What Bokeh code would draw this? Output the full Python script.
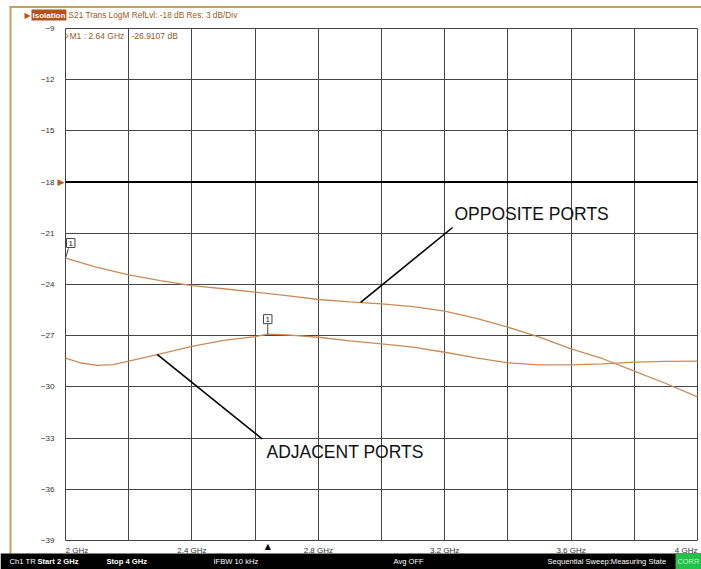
from bokeh.plotting import figure
from bokeh.models import Range1d, FixedTicker, Label, BoxAnnotation, Grid, LinearAxis
from bokeh.embed import file_html
from bokeh.resources import INLINE

# ---- data ----
opp_freq = [2.0, 2.1, 2.2, 2.3, 2.4, 2.5, 2.6, 2.7, 2.8, 2.9, 3.0, 3.1, 3.2, 3.3, 3.4, 3.5, 3.6, 3.7, 3.8, 3.9, 4.0]
opp_db = [-22.45, -22.99, -23.43, -23.77, -24.06, -24.25, -24.45, -24.65, -24.88, -25.02, -25.13, -25.3, -25.56,
          -25.98, -26.5, -27.08, -27.77, -28.35, -29.08, -29.8, -30.58]

adj_freq = [2.0, 2.05, 2.1, 2.15, 2.2, 2.3, 2.4, 2.5, 2.6, 2.64, 2.7, 2.8, 2.9, 3.0, 3.1, 3.2, 3.3, 3.4, 3.5, 3.6,
            3.7, 3.8, 3.9, 4.0]
adj_db = [-28.32, -28.6, -28.74, -28.7, -28.49, -28.06, -27.63, -27.28, -27.05, -26.91, -26.95, -27.09, -27.3,
          -27.48, -27.67, -27.97, -28.3, -28.59, -28.71, -28.71, -28.65, -28.55, -28.5, -28.49]

marker_freq = [2.0, 2.64]
marker_db = [-22.45, -26.91]
marker_text = ["1", "1"]

ref_level = -18
y_ticks = [-39, -36, -33, -30, -27, -24, -21, -18, -15, -12, -9]
x_grid = [2.0, 2.2, 2.4, 2.6, 2.8, 3.0, 3.2, 3.4, 3.6, 3.8, 4.0]
x_tick_vals = [2.4, 2.8, 3.2, 3.6]
x_tick_text = ["2.4 GHz", "2.8 GHz", "3.2 GHz", "3.6 GHz"]
x_end_vals = [2.0, 4.0]
x_end_text = ["2 GHz", "4 GHz"]
x_lo, x_hi = 2.0, 4.0
y_lo, y_hi = -39, -9

callout_text = ["OPPOSITE PORTS", "ADJACENT PORTS"]
callout_x = [3.231, 2.636]
callout_y = [-19.87, -33.79]
leader_x0 = [2.934, 2.290]
leader_y0 = [-25.05, -28.10]
leader_x1 = [3.225, 2.622]
leader_y1 = [-20.66, -33.04]

header_tag = "Isolation"
header_text = "S21 Trans LogM RefLvl: -18  dB Res: 3  dB/Div"
readout_freq_text = "M1 :  2.64 GHz"
readout_val_text = "-26.9107  dB"
status_items = [("Ch1", "normal"), ("TR", "normal"), ("Start 2 GHz", "bold"), ("Stop 4 GHz", "bold"),
                ("IFBW 10 kHz", "normal"), ("Avg OFF", "normal"), ("Sequential Sweep:Measuring State", "normal")]
status_corr = "CORR"

# ---- layout / styles ----
FONT = "Liberation Sans"
TRACE = "#c78d58"
BROWN = "#9a5a26"
ORANGE = "#c0561a"
GOLD = "#c8a25a"
GRID = "#454545"

W, H = 701, 569
GX0, GX1 = 65, 697      # pixel columns of 2 GHz and 4 GHz
GY0, GY1 = 28, 540      # pixel rows of -9 dB and -39 dB
ppx = (GX1 - GX0) / (x_hi - x_lo)
ppy = (GY1 - GY0) / (y_hi - y_lo)
xr = Range1d(x_lo - GX0 / ppx, x_hi + (W - GX1) / ppx)
yr = Range1d(y_lo - (H - GY1) / ppy, y_hi + GY0 / ppy)

p = figure(width=W, height=H, output_backend="svg", toolbar_location=None, title=None,
           x_range=xr, y_range=yr, x_axis_type=None, y_axis_type=None, min_border=0)
p.background_fill_color = "white"
p.border_fill_color = "white"
p.outline_line_color = None

# grid (limited to the measurement area)
have_cross = "cross_bounds" in Grid.properties()
if have_cross:
    gx = Grid(dimension=0, ticker=FixedTicker(ticks=x_grid), bounds=(x_lo, x_hi), cross_bounds=(y_lo, y_hi),
              grid_line_color=GRID, grid_line_width=1)
    gy = Grid(dimension=1, ticker=FixedTicker(ticks=y_ticks), bounds=(y_lo, y_hi), cross_bounds=(x_lo, x_hi),
              grid_line_color=GRID, grid_line_width=1)
    p.add_layout(gx)
    p.add_layout(gy)
else:
    p.segment(x_grid, [y_lo] * len(x_grid), x_grid, [y_hi] * len(x_grid), line_color=GRID, line_width=1)
    p.segment([x_lo] * len(y_ticks), y_ticks, [x_hi] * len(y_ticks), y_ticks, line_color=GRID, line_width=1)

# axes drawn at the edges of the measurement area
ya = LinearAxis(fixed_location=x_lo, ticker=FixedTicker(ticks=y_ticks), bounds=(y_lo, y_hi))
xa = LinearAxis(fixed_location=y_lo, ticker=FixedTicker(ticks=x_tick_vals), bounds=(x_lo, x_hi),
                major_label_overrides={v: t for v, t in zip(x_tick_vals, x_tick_text)})
for ax in (xa, ya):
    ax.axis_line_color = None
    ax.major_tick_line_color = None
    ax.minor_tick_line_color = None
    ax.major_tick_out = 0
    ax.major_tick_in = 0
    ax.major_label_text_font = FONT
    ax.major_label_text_font_size = "8px"
    ax.major_label_text_color = "#333333"
xa.major_label_standoff = 5
ya.major_label_standoff = 11
p.add_layout(ya, "left")
p.add_layout(xa, "below")

# reference level line
p.segment([x_lo], [ref_level], [x_hi], [ref_level], line_color="black", line_width=2)

# traces
p.line(opp_freq, opp_db, line_color=TRACE, line_width=1.3)
p.line(adj_freq, adj_db, line_color=TRACE, line_width=1.3)

# leader lines and callouts
p.segment(leader_x0, leader_y0, leader_x1, leader_y1, line_color="black", line_width=1.6)
for t, x, y in zip(callout_text, callout_x, callout_y):
    p.add_layout(Label(x=x, y=y, text=t, text_font=FONT, text_font_size="17.5px", text_color="#111111",
                       text_align="left", text_baseline="middle"))

# marker stems and boxes
p.ray(x=[marker_freq[0]], y=[marker_db[0]], length=10, length_units="screen", angle=73, angle_units="deg",
      line_color="#444444", line_width=1)
p.ray(x=[marker_freq[1]], y=[marker_db[1]], length=10, length_units="screen", angle=90, angle_units="deg",
      line_color="#444444", line_width=1)
p.add_layout(Label(x=marker_freq[0], y=marker_db[0], text=marker_text[0], x_offset=1, y_offset=15,
                   text_align="left", text_baseline="middle", text_font=FONT, text_font_size="8px",
                   text_color="#222222", background_fill_color="white", border_line_color="#444444",
                   padding=2))
p.add_layout(Label(x=marker_freq[1], y=marker_db[1], text=marker_text[1], y_offset=15,
                   text_align="center", text_baseline="middle", text_font=FONT, text_font_size="8px",
                   text_color="#222222", background_fill_color="white", border_line_color="#444444",
                   padding=2))

# reference-level arrow at left edge
p.add_layout(Label(x=x_lo, y=ref_level, x_offset=-1, text="\u25B6", text_align="right", text_baseline="middle",
                   text_font="DejaVu Sans", text_font_size="9px", text_color=ORANGE))
# marker triangle under the grid
p.add_layout(Label(x=marker_freq[1], y=y_lo, y_offset=-1, text="\u25B2", text_align="center",
                   text_baseline="top", text_font="DejaVu Sans", text_font_size="8px", text_color="black"))

# end tick labels
p.add_layout(Label(x=x_end_vals[0], y=y_lo, y_offset=-5, text=x_end_text[0], text_align="left",
                   text_baseline="top", text_font=FONT, text_font_size="8px", text_color="#333333"))
p.add_layout(Label(x=x_end_vals[1], y=y_lo, y_offset=-5, text=x_end_text[1], text_align="right",
                   text_baseline="top", text_font=FONT, text_font_size="8px", text_color="#333333"))

# marker readout inside grid
ry = H - 35
p.add_layout(Label(x=65, y=ry, x_units="screen", y_units="screen", text="\u203A", text_align="left",
                   text_baseline="middle", text_font=FONT, text_font_size="10px", text_color=ORANGE))
p.add_layout(Label(x=69, y=ry, x_units="screen", y_units="screen", text=readout_freq_text, text_align="left",
                   text_baseline="middle", text_font=FONT, text_font_size="8.5px", text_color=BROWN))
p.add_layout(Label(x=131, y=ry, x_units="screen", y_units="screen", text=readout_val_text, text_align="left",
                   text_baseline="middle", text_font=FONT, text_font_size="8.5px", text_color=BROWN))

# gold borders
p.add_layout(BoxAnnotation(left=9, right=W, top=H - 5.5, bottom=H - 7.5,
                           left_units="screen", right_units="screen", top_units="screen", bottom_units="screen",
                           fill_color=GOLD, fill_alpha=1, line_color=None))
p.add_layout(BoxAnnotation(left=9, right=11, top=H - 5.5, bottom=16,
                           left_units="screen", right_units="screen", top_units="screen", bottom_units="screen",
                           fill_color=GOLD, fill_alpha=1, line_color=None))

# header
hy = H - 14.5
p.add_layout(Label(x=24, y=hy, x_units="screen", y_units="screen", text="\u25B6", text_align="left",
                   text_baseline="middle", text_font="DejaVu Sans", text_font_size="8px", text_color=ORANGE))
p.add_layout(Label(x=31, y=hy, x_units="screen", y_units="screen", text=header_tag, text_align="left",
                   text_baseline="middle", text_font=FONT, text_font_style="bold", text_font_size="8px",
                   text_color="white", background_fill_color="#b4501c", padding=1))
p.add_layout(Label(x=68, y=hy, x_units="screen", y_units="screen", text=header_text, text_align="left",
                   text_baseline="middle", text_font=FONT, text_font_size="8.3px", text_color=BROWN))

# status bar
p.add_layout(BoxAnnotation(left=0, right=W, top=16, bottom=0,
                           left_units="screen", right_units="screen", top_units="screen", bottom_units="screen",
                           fill_color="black", fill_alpha=1, line_color=None))
status_x = [9, 25, 37, 106, 213, 393, 547]
sy = 8
for (t, st), sx in zip(status_items, status_x):
    p.add_layout(Label(x=sx, y=sy, x_units="screen", y_units="screen", text=t, text_align="left",
                       text_baseline="middle", text_font=FONT, text_font_style=st, text_font_size="7.6px",
                       text_color="white"))
p.add_layout(BoxAnnotation(left=675, right=W, top=16, bottom=0,
                           left_units="screen", right_units="screen", top_units="screen", bottom_units="screen",
                           fill_color="#22c24a", fill_alpha=1, line_color=None))
p.add_layout(Label(x=677, y=sy, x_units="screen", y_units="screen", text=status_corr, text_align="left",
                   text_baseline="middle", text_font=FONT, text_font_size="7.4px", text_color="#bff5c8"))

open("out.html", "w").write(file_html(p, INLINE))
